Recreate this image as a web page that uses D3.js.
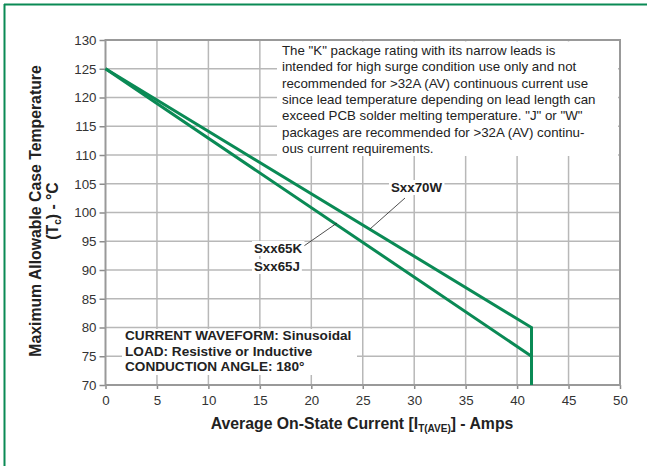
<!DOCTYPE html>
<meta charset="utf-8">
<style>
  body { margin: 0; background: #fff; font-family: "Liberation Sans", Arial, Helvetica, sans-serif; }
  svg { display: block; }
</style>
<body>
<script src="https://cdnjs.cloudflare.com/ajax/libs/d3/7.8.5/d3.min.js"></script>
<script>

  // axis ticks
  var xTicks = [0, 5, 10, 15, 20, 25, 30, 35, 40, 45, 50];
  var yTicks = [70, 75, 80, 85, 90, 95, 100, 105, 110, 115, 120, 125, 130];

  // derating curves (current in A, case temperature in °C)
  var currentW = [0, 41.4, 41.4];
  var tempW = [125, 80, 70];
  var currentK = [0, 41.4, 41.4];
  var tempK = [125, 75, 70];

  var note = [
    "The \"K\" package rating with its narrow leads is",
    "intended for high surge condition use only and not",
    "recommended for >32A (AV) continuous current use",
    "since lead temperature depending on lead length can",
    "exceed PCB solder melting temperature. \"J\" or \"W\"",
    "packages are recommended for >32A (AV) continu-",
    "ous current requirements."
  ];
  var conditions = [
    "CURRENT WAVEFORM: Sinusoidal",
    "LOAD: Resistive or Inductive",
    "CONDUCTION ANGLE: 180\u00b0"
  ];

  var W = 647, H = 466;
  var green = "#0a8a55";

  var svg = d3.select("body").append("svg")
    .attr("width", W)
    .attr("height", H);

  // frame (top and left only)
  svg.append("line").attr("x1", 4).attr("x2", W).attr("y1", 4.5).attr("y2", 4.5)
    .attr("stroke", green).attr("stroke-width", 2);
  svg.append("line").attr("x1", 4.5).attr("x2", 4.5).attr("y1", 4).attr("y2", H)
    .attr("stroke", green).attr("stroke-width", 2);

  var x = d3.scaleLinear().domain([0, 50]).range([105.5, 620]);
  var y = d3.scaleLinear().domain([70, 130]).range([385, 40]);

  var g = svg.append("g");

  // gridlines
  g.selectAll(".vgrid").data(xTicks.slice(1, -1)).enter().append("line")
    .attr("x1", d => x(d)).attr("x2", d => x(d))
    .attr("y1", y(130)).attr("y2", y(70))
    .attr("stroke", "#b8b8b8").attr("stroke-width", 1.5);
  g.selectAll(".hgrid").data(yTicks.slice(1, -1)).enter().append("line")
    .attr("x1", x(0)).attr("x2", x(50))
    .attr("y1", d => y(d)).attr("y2", d => y(d))
    .attr("stroke", "#b8b8b8").attr("stroke-width", 1.5);

  // axes
  var yAxis = d3.axisLeft(y).tickValues(yTicks).tickSize(6).tickPadding(3);
  var xAxis = d3.axisBottom(x).tickValues(xTicks).tickSize(4).tickPadding(7);

  var gy = svg.append("g").attr("transform", "translate(" + x(0) + ",0)").call(yAxis);
  var gx = svg.append("g").attr("transform", "translate(0," + y(70) + ")").call(xAxis);
  [gx, gy].forEach(function (a) {
    a.select(".domain").remove();
    a.selectAll("line").attr("stroke", "#8c8c8c").attr("stroke-width", 1.5);
    a.selectAll("text").attr("fill", "#333").style("font-size", "13.3px")
      .style("font-family", "\"Liberation Sans\", Arial, sans-serif");
  });

  // plot border
  svg.append("rect")
    .attr("x", x(0)).attr("y", y(130))
    .attr("width", x(50) - x(0)).attr("height", y(70) - y(130))
    .attr("fill", "none").attr("stroke", "#999").attr("stroke-width", 2);

  // note box
  svg.append("rect").attr("x", 277).attr("y", 41.5).attr("width", 341).attr("height", 114.5)
    .attr("fill", "#fff");
  svg.append("text").attr("x", 282).attr("y", 55)
    .attr("fill", "#222").style("font-size", "13.3px")
    .selectAll("tspan").data(note).enter().append("tspan")
    .attr("x", 282).attr("dy", (d, i) => i ? 16.3 : 0)
    .text(d => d);

  // conditions box
  svg.append("rect").attr("x", 122).attr("y", 329).attr("width", 235).attr("height", 46)
    .attr("fill", "#fff");
  svg.append("text").attr("x", 125).attr("y", 340)
    .attr("fill", "#222").style("font-size", "13.6px").style("font-weight", "bold")
    .selectAll("tspan").data(conditions).enter().append("tspan")
    .attr("x", 125).attr("dy", (d, i) => i ? 15.5 : 0)
    .text(d => d);

  // curves
  var line = d3.line().x(d => x(d[0])).y(d => y(d[1]));
  [[currentW, tempW], [currentK, tempK]].forEach(function (s) {
    svg.append("path")
      .datum(d3.zip(s[0], s[1]))
      .attr("d", line)
      .attr("fill", "none")
      .attr("stroke", green)
      .attr("stroke-width", 3)
      .attr("stroke-linejoin", "miter");
  });

  // curve labels
  function label(txt, lx, ly) {
    var t = svg.append("text").attr("x", lx).attr("y", ly)
      .attr("fill", "#222").style("font-size", "13.3px").style("font-weight", "bold")
      .text(txt);
    var b = t.node().getBBox();
    svg.insert("rect", function () { return t.node(); })
      .attr("x", b.x - 2).attr("y", b.y).attr("width", b.width + 4).attr("height", b.height)
      .attr("fill", "#fff");
  }
  // leader lines
  svg.append("line").attr("x1", 405).attr("y1", 198).attr("x2", 370).attr("y2", 229)
    .attr("stroke", "#222").attr("stroke-width", 0.8);
  svg.append("line").attr("x1", 301).attr("y1", 248).attr("x2", 337).attr("y2", 223)
    .attr("stroke", "#222").attr("stroke-width", 0.8);
  label("Sxx70W", 391, 192);
  label("Sxx65K", 254, 253);
  label("Sxx65J", 254, 271);

  // axis titles
  var xt = svg.append("text").attr("x", 362).attr("y", 429)
    .attr("text-anchor", "middle").attr("fill", "#222")
    .style("font-size", "15.8px").style("font-weight", "bold");
  xt.append("tspan").text("Average On-State Current [I");
  xt.append("tspan").attr("dy", 3).style("font-size", "10px").text("T(AVE)");
  xt.append("tspan").attr("dy", -3).text("] - Amps");

  svg.append("text").attr("transform", "translate(41,211) rotate(-90)")
    .attr("text-anchor", "middle").attr("fill", "#222")
    .style("font-size", "15.8px").style("font-weight", "bold")
    .text("Maximum Allowable Case Temperature");
  var yt2 = svg.append("text").attr("transform", "translate(58,211) rotate(-90)")
    .attr("text-anchor", "middle").attr("fill", "#222")
    .style("font-size", "15.8px").style("font-weight", "bold");
  yt2.append("tspan").text("(T");
  yt2.append("tspan").attr("dy", 3).style("font-size", "10px").text("c");
  yt2.append("tspan").attr("dy", -3).text(") - \u00b0C");

</script>
</body>
